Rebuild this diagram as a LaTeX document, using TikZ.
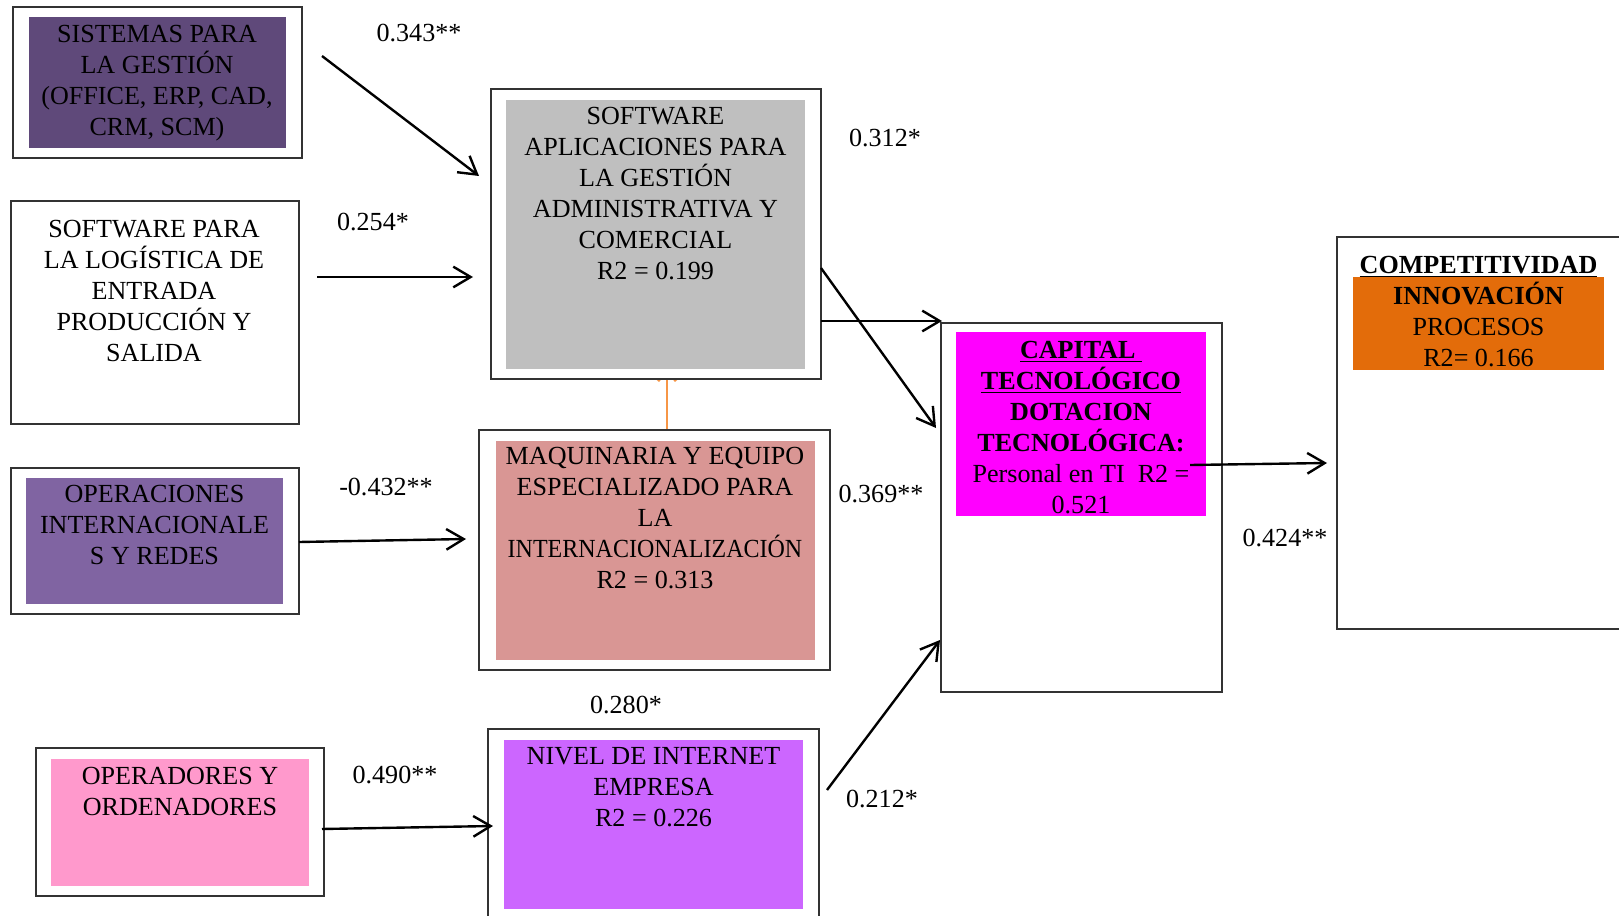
\documentclass[tikz,border=0pt]{standalone}
\usepackage{graphicx}
\usepackage{fontspec}
\setmainfont{Liberation Serif}
\usetikzlibrary{arrows.meta,fit}
\pgfdeclarelayer{background}
\pgfsetlayers{background,main}

\definecolor{sistemas}{HTML}{5F497A}
\definecolor{operac}{HTML}{8064A2}
\definecolor{softgray}{HTML}{BFBFBF}
\definecolor{maquina}{HTML}{D99694}
\definecolor{operad}{HTML}{FF99CC}
\definecolor{internet}{HTML}{CC66FF}
\definecolor{capital}{HTML}{FF00FF}
\definecolor{innova}{HTML}{E36C0A}
\definecolor{lineorange}{HTML}{F79646}

% strut that fixes the top of the first text line in every box
\newcommand{\firstln}{\rule{0pt}{12pt}}

\tikzset{
  frame/.style={draw=black!80, line width=0.6pt, fill=white, inner sep=0pt, outer sep=0pt},
  panel/.style={draw=none, inner sep=0pt, outer sep=0pt},
  caption/.style={font=\fontsize{12}{14.3}\selectfont, align=center, inner sep=0pt, anchor=north},
  coef/.style={font=\fontsize{12}{14.3}\selectfont, inner sep=0pt},
  link/.style={line width=1.1pt, -{Straight Barb[length=8pt,width=9.5pt]}},
  orangelink/.style={draw=lineorange, line width=1.3pt, -{Straight Barb[length=5pt,width=8.3pt]}},
}

\begin{document}
\begin{tikzpicture}[x=0.46pt,y=-0.46pt]
\useasboundingbox (0,0) rectangle (1619,916);
\clip (0,0) rectangle (1619,916);

% ---------- left column ----------
\node[frame, fit={(13,7) (302,158)}] (A) {};
\node[panel, fill=sistemas, fit={(29,17) (286,148)}] (Ain) {};
\node[caption] (At) at (157,15.5) {\firstln SISTEMAS PARA\\LA GESTIÓN\\(OFFICE, ERP, CAD,\\CRM, SCM)};

\node[frame, fit={(11,201) (299,424)}] (B) {};
\node[caption] (Bt) at (154,210.5) {\firstln SOFTWARE PARA\\LA LOGÍSTICA DE\\ENTRADA\\PRODUCCIÓN Y\\SALIDA};

\node[frame, fit={(11,468) (299,614)}] (C) {};
\node[panel, fill=operac, fit={(26,478) (283,604)}] (Cin) {};
\node[caption] (Ct) at (154.5,475.5) {\firstln OPERACIONES\\INTERNACIONALE\\S Y REDES};

\node[frame, fit={(36,748) (324,896)}] (D) {};
\node[panel, fill=operad, fit={(51,759) (309,886)}] (Din) {};
\node[caption] (Dt) at (180,757.5) {\firstln OPERADORES Y\\ORDENADORES};

% ---------- middle column ----------
\node[frame, fit={(491,89) (821,379)}] (G) {};
\node[panel, fill=softgray, fit={(506,100) (805,369)}] (Gin) {};
\node[caption] (Gt) at (655.5,97.5) {\firstln SOFTWARE\\APLICACIONES PARA\\LA GESTIÓN\\ADMINISTRATIVA Y\\COMERCIAL\\R2 = 0.199};

\node[frame, fit={(479,430) (830,670)}] (M) {};
\node[panel, fill=maquina, fit={(496,441) (815,660)}] (Min) {};
\node[caption] (Mt) at (655,437.5) {\firstln MAQUINARIA Y EQUIPO\\ESPECIALIZADO PARA\\LA\\\scalebox{0.92}[1]{INTERNACIONALIZACIÓN}\\R2 = 0.313};

\node[frame, fit={(488,729) (819,930)}] (N) {};
\node[panel, fill=internet, fit={(504,740) (803,909)}] (Nin) {};
\node[caption] (Nt) at (653.5,737.5) {\firstln NIVEL DE INTERNET\\EMPRESA\\R2 = 0.226};

% ---------- right part ----------
\node[frame, fit={(941,323) (1222,692)}] (K) {};
\node[panel, fill=capital, fit={(956,332) (1206,516)}] (Kin) {};
\node[caption] (Kt) at (1081,331.5) {\firstln\textbf{\underline{CAPITAL\ }}\\\textbf{\underline{TECNOLÓGICO}}\\\textbf{DOTACION}\\\textbf{TECNOLÓGICA:}\\Personal en TI\ \ R2 =\\0.521};

\node[frame, fit={(1337,237) (1640,629)}] (P) {};
\node[panel, fill=innova, fit={(1353,277) (1604,370)}] (Pin) {};
\node[caption] (Pt) at (1478.5,246.5) {\firstln\textbf{\underline{COMPETITIVIDAD}}\\\textbf{INNOVACIÓN}\\PROCESOS\\R2= 0.166};

% ---------- path coefficients ----------
\node[coef] (c1) at (419,33) {0.343**};
\node[coef] (c2) at (373,222) {0.254*};
\node[coef] (c3) at (386,487) {-0.432**};
\node[coef] (c4) at (395,775) {0.490**};
\node[coef] (c5) at (885,138) {0.312*};
\node[coef] (c6) at (881,494) {0.369**};
\node[coef] (c7) at (626,705) {0.280*};
\node[coef] (c8) at (882,799) {0.212*};
\node[coef] (c9) at (1285,538) {0.424**};

% ---------- connector end points ----------
\coordinate (a1) at (322,56);   \coordinate (g1) at (479,176);
\coordinate (b1) at (317,277);  \coordinate (g2) at (473,277);
\coordinate (m1) at (466,539);
\coordinate (d1) at (322,829);  \coordinate (n1) at (493,826);
\coordinate (k1) at (936,428);  \coordinate (k2) at (942,321);
\coordinate (n2) at (827,790);  \coordinate (k3) at (940,640);
\coordinate (k4) at (1190,465); \coordinate (p1) at (1327,463);
\coordinate (otip) at (667,368);

% ---------- connectors ----------
\draw[link] (a1) -- (g1);
\draw[link] (b1) -- (g2);
\draw[link] (C.east |- 0,542) -- (m1);
\draw[link] (d1) -- (n1);
\draw[link] (G.east |- 0,268) -- (k1);
\draw[link] (G.east |- 0,321) -- (k2);
\draw[link] (n2) -- (k3);
\draw[link] (k4) -- (p1);

% white page and the orange link, which runs under the boxes
\begin{pgfonlayer}{background}
  \fill[white] (0,0) rectangle (1619,916);
  \draw[orangelink] (M.north -| otip) -- (otip);
\end{pgfonlayer}
\end{tikzpicture}
\end{document}
